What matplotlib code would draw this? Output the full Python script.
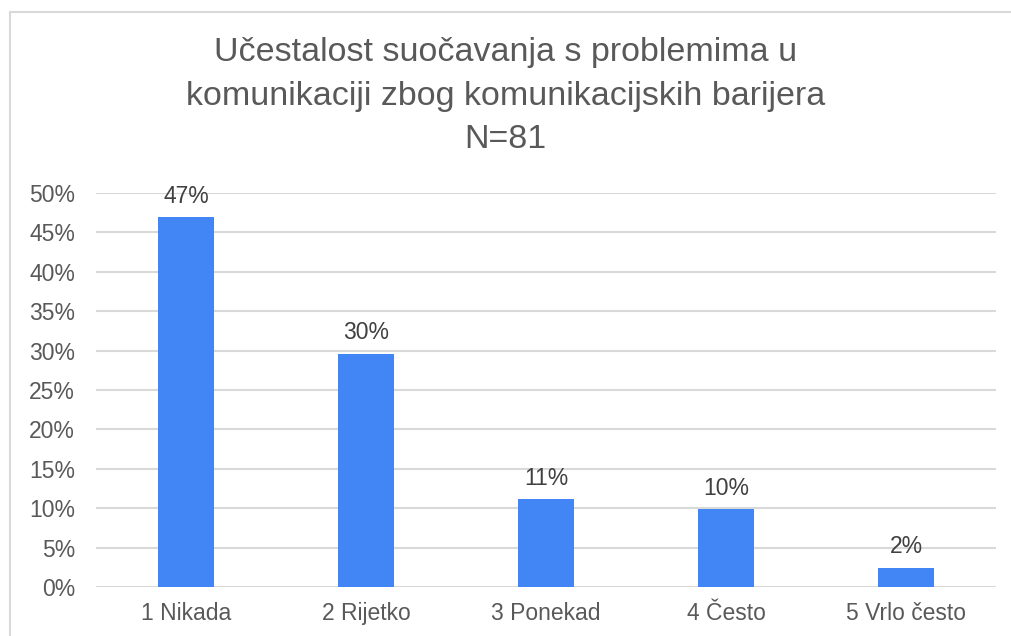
import matplotlib.pyplot as plt
from matplotlib.lines import Line2D

categories = ["1 Nikada", "2 Rijetko", "3 Ponekad", "4 Često", "5 Vrlo često"]
counts = [38, 24, 9, 8, 2]
n_total = 81
shares = [c / n_total for c in counts]
yticks = [0, 0.05, 0.10, 0.15, 0.20, 0.25, 0.30, 0.35, 0.40, 0.45, 0.50]

plt.rcParams['font.family'] = ['Liberation Sans', 'DejaVu Sans']

fig = plt.figure(figsize=(10.11, 6.36), dpi=100)
ax = fig.add_axes([96 / 1011, 1 - 587 / 636, 900 / 1011, (587 - 193) / 636])

bar_color = "#4285F4"
text_gray = "#595959"
grid_gray = "#d9d9d9"

x = range(len(categories))
bars = ax.bar(x, shares, width=0.31, color=bar_color, zorder=3)

for xi, v in zip(x, shares):
    ax.text(xi, v + 0.012, f"{round(v * 100):.0f}%", ha='center', va='bottom',
            fontsize=16.5, color="#404040", zorder=4)

ax.set_xlim(-0.5, len(categories) - 0.5)
ax.set_ylim(0, 0.5)
ax.set_yticks(yticks)
ax.set_yticklabels([f"{round(t * 100)}%" for t in yticks])
ax.set_xticks(list(x))
ax.set_xticklabels(categories)
ax.tick_params(axis='y', length=0, pad=15, labelsize=16.5, labelcolor=text_gray)
ax.tick_params(axis='x', length=0, pad=11, labelsize=16.5, labelcolor=text_gray)

ax.grid(axis='y', color=grid_gray, linewidth=1.5, zorder=0)
for s in ax.spines.values():
    s.set_visible(False)

# Naslov
title_lines = ["Učestalost suočavanja s problemima u",
               "komunikaciji zbog komunikacijskih barijera",
               f"N={n_total}"]
for line, ypx in zip(title_lines, [52, 97, 139]):
    fig.text(0.5, 1 - ypx / 636, line, ha='center', va='center',
             fontsize=24.5, color=text_gray)

# Okvir
fig.add_artist(Line2D([10 / 1011, 1], [1 - 12 / 636, 1 - 12 / 636], color=grid_gray,
                      linewidth=1.5, transform=fig.transFigure))
fig.add_artist(Line2D([10 / 1011, 10 / 1011], [0, 1 - 12 / 636], color=grid_gray,
                      linewidth=1.5, transform=fig.transFigure))

fig.savefig("out.png", dpi=100)
